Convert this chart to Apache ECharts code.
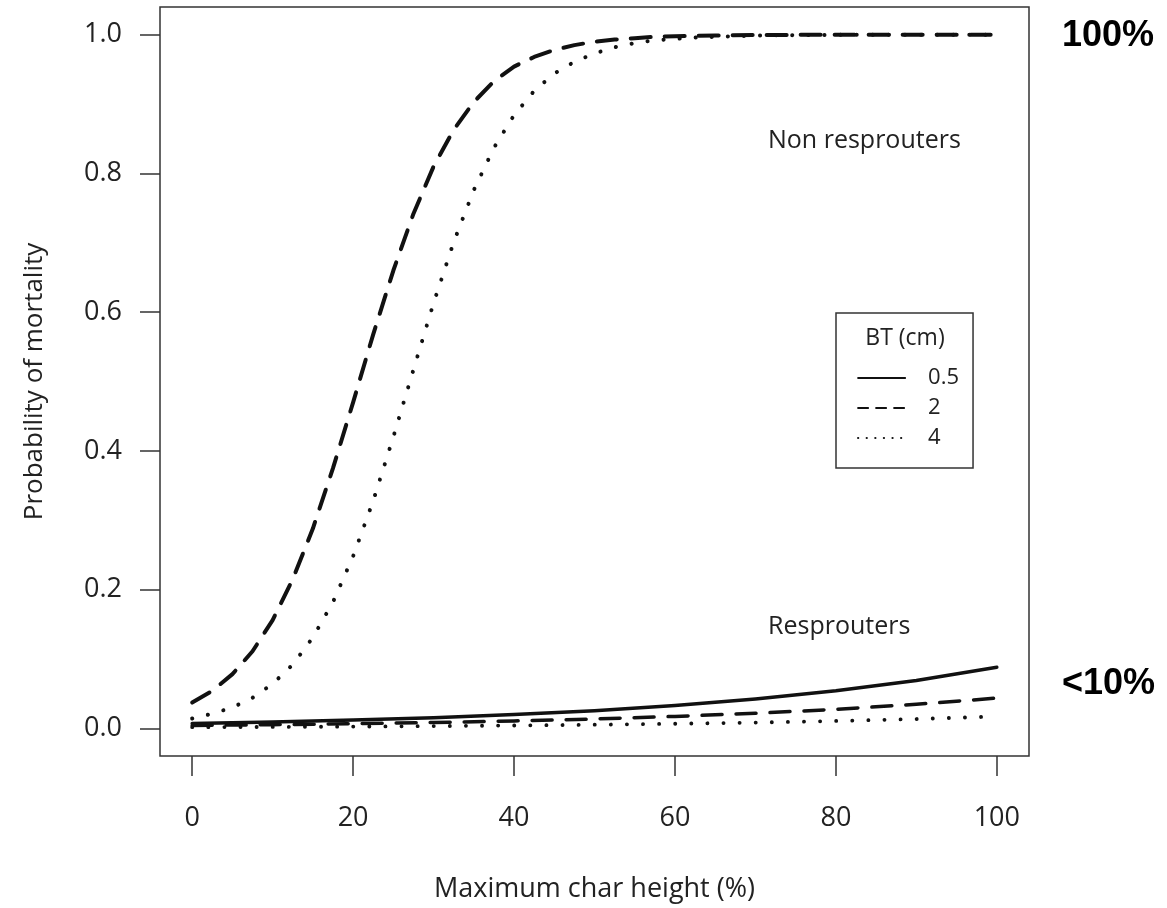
<!DOCTYPE html>
<html>
<head>
<meta charset="utf-8">
<script src="https://cdn.jsdelivr.net/npm/echarts@6/dist/echarts.min.js"></script>
<style>
  html, body { margin: 0; padding: 0; background: #fff; }
  #chart { width: 1167px; height: 908px; }
</style>
</head>
<body>
<div id="chart"></div>
<script>
// ---- Data ----
const xTicks = [0, 20, 40, 60, 80, 100];
const yTicks = [0, 0.2, 0.4, 0.6, 0.8, 1.0];
const btLevels = ['0.5', '2', '4'];

// Non resprouters (steep curves)
const xNon = [0, 2.5, 5, 7.5, 10, 12.5, 15, 17.5, 20, 22.5, 25, 27.5, 30, 32.5, 35, 37.5, 40, 42.5, 45, 47.5, 50, 52.5, 55, 57.5, 60, 62.5, 65, 70, 75, 80, 85, 90, 95, 100];
const nonBT2 = [0.037, 0.054, 0.078, 0.111, 0.156, 0.215, 0.288, 0.375, 0.470, 0.568, 0.660, 0.742, 0.810, 0.863, 0.903, 0.933, 0.954, 0.968, 0.978, 0.985, 0.990, 0.993, 0.995, 0.997, 0.998, 0.9985, 0.999, 0.9996, 0.9998, 0.9999, 1.0, 1.0, 1.0, 1.0];
const nonBT4 = [0.014, 0.021, 0.030, 0.044, 0.064, 0.092, 0.131, 0.182, 0.248, 0.328, 0.420, 0.517, 0.613, 0.701, 0.776, 0.837, 0.884, 0.919, 0.944, 0.961, 0.973, 0.982, 0.988, 0.992, 0.994, 0.996, 0.997, 0.9988, 0.9995, 0.9998, 0.9999, 1.0, 1.0, 1.0];

// Resprouters (low curves)
const xRes = [0, 10, 20, 30, 40, 50, 60, 70, 80, 90, 100];
const resBT05 = [0.0070, 0.0091, 0.0118, 0.0152, 0.0197, 0.0254, 0.0327, 0.0421, 0.0540, 0.0690, 0.0879];
const resBT2 = [0.0041, 0.0052, 0.0066, 0.0083, 0.0106, 0.0134, 0.0171, 0.0216, 0.0273, 0.0345, 0.0435];
const resBT4 = [0.0015, 0.0019, 0.0024, 0.0031, 0.0040, 0.0051, 0.0065, 0.0082, 0.0105, 0.0133, 0.0170];

// ---- Chart ----
const zip = (xs, ys) => xs.map((x, i) => [x, ys[i]]);
const ink = '#111';
const textCol = '#222';
const font = 'Open Sans';

const solidStyle = { color: ink, width: 3.5, type: 'solid', cap: 'round', join: 'round' };
const dashStyle = { color: ink, width: 4, type: [20, 14], cap: 'round', join: 'round' };
const dotStyle = { color: ink, width: 4, type: [0.1, 16], cap: 'round', join: 'round' };

function line(name, data, style) {
  return {
    type: 'line', name: name, data: data,
    symbol: 'none', showSymbol: false,
    smooth: false,
    lineStyle: style, itemStyle: { color: ink },
    silent: true
  };
}

const chart = echarts.init(document.getElementById('chart'));
chart.setOption({
  animation: false,
  backgroundColor: '#fff',
  grid: {
    left: 160, top: 7, width: 869, height: 750,
    show: true, borderColor: '#333', borderWidth: 1.5,
    backgroundColor: 'transparent'
  },
  xAxis: {
    type: 'value', min: -4, max: 104,
    name: 'Maximum char height (%)', nameLocation: 'middle', nameGap: 120,
    nameTextStyle: { fontFamily: font, fontSize: 27, color: textCol },
    axisLine: { show: false, onZero: false },
    splitLine: { show: false },
    axisTick: { show: true, inside: false, length: 20, customValues: xTicks, lineStyle: { color: '#333', width: 1.5 } },
    axisLabel: { customValues: xTicks, margin: 49, fontFamily: font, fontSize: 27, color: textCol }
  },
  yAxis: {
    type: 'value', min: -0.04, max: 1.04,
    name: 'Probability of mortality', nameLocation: 'middle', nameGap: 112,
    nameTextStyle: { fontFamily: font, fontSize: 26, color: textCol },
    axisLine: { show: false, onZero: false },
    splitLine: { show: false },
    axisTick: { show: true, inside: false, length: 20, customValues: yTicks, lineStyle: { color: '#333', width: 1.5 } },
    axisLabel: { customValues: yTicks, margin: 38, fontFamily: font, fontSize: 27, color: textCol,
      formatter: v => v.toFixed(1) }
  },
  legend: {
    orient: 'vertical', left: 836, top: 313,
    padding: [54, 14, 19, 21],
    borderColor: '#333', borderWidth: 1.5, borderRadius: 0,
    itemWidth: 47, itemHeight: 14, itemGap: 8,
    selectedMode: false,
    itemStyle: { opacity: 0, borderWidth: 0 },
    formatter: '{t|{name}}',
    textStyle: { color: textCol, fontFamily: font, fontSize: 22, lineHeight: 20,
      rich: { t: { fontFamily: font, fontSize: 22, lineHeight: 20, padding: [0, 0, 0, 18], color: textCol } } },
    data: [
      { name: btLevels[0], itemStyle: { opacity: 0 }, lineStyle: { width: 2, type: 'solid', color: ink } },
      { name: btLevels[1], itemStyle: { opacity: 0 }, lineStyle: { width: 2, type: [10, 8], color: ink } },
      { name: btLevels[2], itemStyle: { opacity: 0 }, lineStyle: { width: 2.2, type: [0.1, 8.5], cap: 'round', color: ink } }
    ]
  },
  graphic: [
    { type: 'text', x: 905, y: 338, silent: true,
      style: { text: 'BT (cm)', fontFamily: font, fontSize: 23, fill: textCol, align: 'center', verticalAlign: 'middle' } },
    { type: 'text', x: 768, y: 141, silent: true,
      style: { text: 'Non resprouters', fontFamily: font, fontSize: 25, fill: textCol, align: 'left', verticalAlign: 'middle' } },
    { type: 'text', x: 768, y: 627, silent: true,
      style: { text: 'Resprouters', fontFamily: font, fontSize: 25, fill: textCol, align: 'left', verticalAlign: 'middle' } },
    { type: 'text', x: 1062, y: 36, silent: true,
      style: { text: '100%', fontFamily: 'Liberation Sans', fontWeight: 'bold', fontSize: 36, fill: '#000', align: 'left', verticalAlign: 'middle' } },
    { type: 'text', x: 1062, y: 684, silent: true,
      style: { text: '<10%', fontFamily: 'Liberation Sans', fontWeight: 'bold', fontSize: 36, fill: '#000', align: 'left', verticalAlign: 'middle' } }
  ],
  series: [
    line(btLevels[0], zip(xRes, resBT05), solidStyle),
    line(btLevels[1], zip(xNon, nonBT2), dashStyle),
    line(btLevels[1], zip(xRes, resBT2), Object.assign({}, dashStyle, { width: 3.5 })),
    line(btLevels[2], zip(xNon, nonBT4), dotStyle),
    line(btLevels[2], zip(xRes, resBT4), Object.assign({}, dotStyle, { width: 3.8 }))
  ]
});
</script>
</body>
</html>
